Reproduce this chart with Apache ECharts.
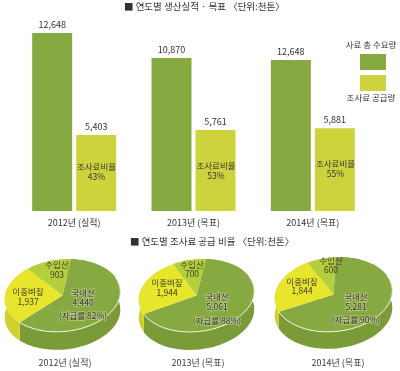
<!DOCTYPE html>
<html><head><meta charset="utf-8">
<style>html,body{margin:0;padding:0;background:#fff}#c{width:400px;height:371px}</style>
<script src="https://cdn.jsdelivr.net/npm/echarts@6/dist/echarts.min.js"></script>
</head><body><div id="c"></div>
<script>
// bar data
const barYears = ['2012년 (실적)','2013년 (목표)','2014년 (목표)'];
const demandHeights = [12648,10870,10730]; // drawn lengths
const demandLabels = ['12,648','10,870','12,648']; // printed labels
const supply = [5403,5761,5881];
const supplyLabels = ['5,403','5,761','5,881'];
const supplyRatio = ['43%','53%','55%'];
// pie data
const domestic = [4440,5061,5281];
const doubleCrop = [1937,1944,1844];
const imported = [903,700,600];
const selfRate = ['82%','88%','90%'];
// pie layout
const pieGeom = [
 {cx:62.5,cy:295.5,rx:58,ry:36,depth:18,rot:-6,start:12,cap:65,
  dom:[83,293,303,316],dbl:[28,292,302],imp:[57,265,275]},
 {cx:196.5,cy:295.5,rx:58,ry:36,depth:18,rot:-7,start:14,cap:198,
  dom:[217,297,307,321],dbl:[167,283,293],imp:[192,265,274]},
 {cx:333.5,cy:294.5,rx:59,ry:37,depth:17,rot:-6,start:6,cap:338,
  dom:[356,297,307,320],dbl:[302,282,291],imp:[331,261,270]}
];
const FONT='"Noto Sans CJK KR","Noto Sans",sans-serif';
const fmt=v=>v.toLocaleString('en-US');
function renderPie(params,api){
  const i=params.dataIndex,g=pieGeom[i];
  const vals=[api.value(0),api.value(1),api.value(2)];
  const total=vals[0]+vals[1]+vals[2];
  const r=g.rot*Math.PI/180,cr=Math.cos(r),sr=Math.sin(r);
  const pt=(deg,dy)=>{ // deg clockwise from top
    const a=deg*Math.PI/180,x=g.rx*Math.sin(a),y=-g.ry*Math.cos(a);
    return [g.cx+x*cr-y*sr,g.cy+x*sr+y*cr+(dy||0)];
  };
  const arc=(a,b,dy)=>{const o=[];const n=Math.max(2,Math.ceil(Math.abs(b-a)/3));
    for(let k=0;k<=n;k++)o.push(pt(a+(b-a)*k/n,dy));return o;};
  const tops=['#87a942','#e8e62c','#b4cf3e'];
  const sides=['#7b9a38','#cfd02c','#a3bc3a'];
  let s=g.start;const sideEls=[],topEls=[];let domRange;
  vals.forEach((v,k)=>{
    const e=s+v/total*360;
    if(k===0)domRange=[s,e];
    sideEls.push({type:'polygon',shape:{points:arc(s,e,0).concat(arc(s,e,g.depth).reverse())},
      style:{fill:sides[k]}});
    topEls.push({type:'polygon',shape:{points:[[g.cx,g.cy]].concat(arc(s,e,0))},
      style:{fill:tops[k]}});
    s=e;
  });
  const rim={type:'polyline',shape:{points:arc(70,domRange[1],0)},
    style:{fill:null,stroke:'#f4f6e4',lineWidth:1}};
  const txt=(t,x,y,size,color)=>({type:'text',style:{text:t,x:x,y:y,fill:color||'#3c3c30',
    font:(size||8.5)+'px '+FONT,align:'center',verticalAlign:'middle'}});
  const glow=(t,x,y,size)=>({type:'text',style:{text:t,x:x,y:y,fill:null,stroke:'#b9cc8a',lineWidth:1.5,
    font:(size||8.5)+'px '+FONT,align:'center',verticalAlign:'middle'}});
  const halo=(t,x,y,size)=>[glow(t,x,y,size),txt(t,x,y,size,'#2a2a20')];
  return {type:'group',children:sideEls.concat(topEls,[rim],
    halo('국내산',g.dom[0],g.dom[1]),halo(fmt(vals[0]),g.dom[0],g.dom[2]),
    halo('(자급률 '+selfRate[i]+')',g.dom[0],g.dom[3],8.5),[
    txt('이중벼짚',g.dbl[0],g.dbl[1]),txt(fmt(vals[1]),g.dbl[0],g.dbl[2]),
    txt('수입산',g.imp[0],g.imp[1]),txt(fmt(vals[2]),g.imp[0],g.imp[2]),
    txt(barYears[i],g.cap,363,9)])};
}
const chart=echarts.init(document.getElementById('c'),null,{renderer:'canvas'});
const barLabel=(arr)=>({show:true,position:'top',distance:4,color:'#333',fontSize:9,fontFamily:FONT,
  formatter:p=>arr[p.dataIndex]});
const titleText=(t,x,y)=>({type:'text',z:100,x:x,y:y,style:{text:t,fill:'#333',font:'9.5px '+FONT,verticalAlign:'middle'}});
chart.setOption({
  animation:false,backgroundColor:'#fff',
  grid:{left:14.5,right:27.5,top:33,bottom:160,containLabel:false},
  xAxis:{type:'category',data:barYears,axisLine:{show:false},axisTick:{show:false},
    axisLabel:{color:'#333',fontSize:9,fontFamily:FONT,margin:7}},
  yAxis:{type:'value',min:0,max:12648,show:false,splitLine:{show:false}},
  series:[
    {type:'bar',data:demandHeights,barWidth:40,barGap:'10%',itemStyle:{color:'#87a942'},label:barLabel(demandLabels)},
    {type:'bar',data:supply,barWidth:40,itemStyle:{color:'#cdd33c'},label:barLabel(supplyLabels)},
    {type:'custom',coordinateSystem:'none',renderItem:renderPie,silent:true,
      data:domestic.map((d,i)=>[d,doubleCrop[i],imported[i]])}
  ],
  graphic:[
    titleText('■ 연도별 생산실적 · 목표 〈단위:천톤〉',124,6),
    titleText('■ 연도별 조사료 공급 비율 〈단위:천톤〉',130,241),
    {type:'text',z:100,x:371,y:45,style:{text:'사료 총 수요량',fill:'#333',font:'8.5px '+FONT,align:'center',verticalAlign:'middle'}},
    {type:'rect',z:100,shape:{x:360,y:54,width:26,height:16},style:{fill:'#87a942'}},
    {type:'rect',z:100,shape:{x:360,y:75,width:26,height:16},style:{fill:'#cdd33c'}},
    {type:'text',z:100,x:371,y:98,style:{text:'조사료 공급량',fill:'#333',font:'8.5px '+FONT,align:'center',verticalAlign:'middle'}},
    ...supplyRatio.map((r,i)=>({type:'text',z:100,x:96.5+119.5*i,y:[172,171,169][i],
      style:{text:'조사료비율\n'+r,fill:'#333',font:'8.5px '+FONT,align:'center',verticalAlign:'middle',lineHeight:10}}))
  ]
});
</script></body></html>
